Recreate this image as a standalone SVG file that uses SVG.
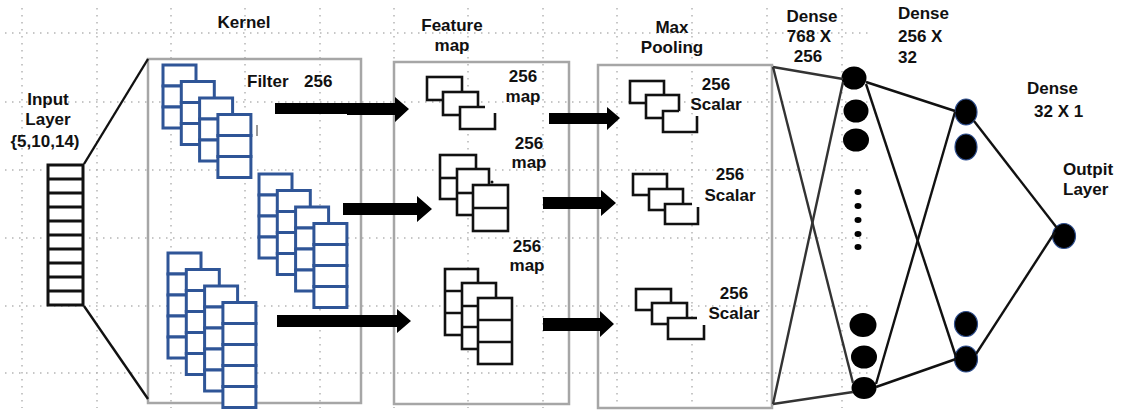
<svg xmlns="http://www.w3.org/2000/svg" xmlns:xlink="http://www.w3.org/1999/xlink" width="1130" height="411" viewBox="0 0 1130 411">
<style>
.grid{stroke:#b5b5b5;stroke-width:1.5;stroke-dasharray:1.5 5.5;fill:none}
.box{fill:none;stroke:#a6a6a6;stroke-width:2.5}
.k{fill:#fff;stroke:#2f5597;stroke-width:3}
.fm{fill:#fff;stroke:#111;stroke-width:2.6}
.t{font-family:"Liberation Sans",Arial,sans-serif;font-weight:bold;font-size:17px;fill:#111}
.m{text-anchor:middle}
.ln{stroke:#111;stroke-width:2.4;fill:none}
.ln2{stroke:#333;stroke-width:2.4;fill:none}
.arr{fill:#000}
.n1{fill:#000}
.n2{fill:#000;stroke:#2f4f8f;stroke-width:1.2}
</style>
<defs>
<g id="k3"><rect class="k" x="0" y="0" width="33" height="21"/><rect class="k" x="0" y="21" width="33" height="21"/><rect class="k" x="0" y="42" width="33" height="21"/></g>
<g id="k4"><use xlink:href="#k3"/><rect class="k" x="0" y="63" width="33" height="21"/></g>
<g id="k5"><use xlink:href="#k4"/><rect class="k" x="0" y="84" width="33" height="21"/></g>
</defs>
<rect width="1130" height="411" fill="#fff"/>
<g id="grid">
<line class="grid" x1="5" y1="33" x2="870" y2="33"/>
<line class="grid" x1="5" y1="102" x2="870" y2="102"/>
<line class="grid" x1="5" y1="170" x2="870" y2="170"/>
<line class="grid" x1="5" y1="238" x2="870" y2="238"/>
<line class="grid" x1="5" y1="306" x2="870" y2="306"/>
<line class="grid" x1="5" y1="373" x2="870" y2="373"/>
<line class="grid" x1="22" y1="8" x2="22" y2="408"/>
<line class="grid" x1="97" y1="8" x2="97" y2="408"/>
<line class="grid" x1="171" y1="8" x2="171" y2="408"/>
<line class="grid" x1="245" y1="8" x2="245" y2="408"/>
<line class="grid" x1="320" y1="8" x2="320" y2="408"/>
<line class="grid" x1="394" y1="8" x2="394" y2="408"/>
<line class="grid" x1="468" y1="8" x2="468" y2="408"/>
<line class="grid" x1="543" y1="8" x2="543" y2="408"/>
<line class="grid" x1="617" y1="8" x2="617" y2="408"/>
<line class="grid" x1="692" y1="8" x2="692" y2="408"/>
<line class="grid" x1="767" y1="8" x2="767" y2="408"/>
<line class="grid" x1="842" y1="8" x2="842" y2="408"/>
</g>

<g id="input-layer">
<rect x="48" y="165" width="35" height="140" fill="#fff" stroke="#111" stroke-width="3"/>
<path d="M48 179H83M48 193H83M48 207H83M48 221H83M48 235H83M48 249H83M48 263H83M48 277H83M48 291H83" stroke="#111" stroke-width="3"/>
<text class="t m" x="48" y="105">Input</text>
<text class="t m" x="48" y="125">Layer</text>
<text class="t m" x="45" y="147">{5,10,14)</text>
</g>

<g id="kernel">
<rect class="box" x="148" y="59" width="213" height="344"/>
<text class="t m" x="244" y="28">Kernel</text>
<text class="t" x="247" y="87">Filter<tspan x="304">256</tspan></text>
<use xlink:href="#k3" x="163" y="65"/>
<use xlink:href="#k3" x="181.3" y="81.5"/>
<use xlink:href="#k3" x="199.6" y="98"/>
<use xlink:href="#k3" x="217.9" y="114.5"/>
<line x1="257" y1="125" x2="257" y2="136" stroke="#333" stroke-width="1"/>
<use xlink:href="#k4" x="259" y="174"/>
<use xlink:href="#k4" x="277.3" y="190.5"/>
<use xlink:href="#k4" x="295.6" y="207"/>
<use xlink:href="#k4" x="313.9" y="223.5"/>
<use xlink:href="#k5" x="168" y="253"/>
<use xlink:href="#k5" x="186.3" y="269.5"/>
<use xlink:href="#k5" x="204.6" y="286"/>
<use xlink:href="#k5" x="222.9" y="302.5"/>
</g>

<g id="feature-map">
<rect class="box" x="394" y="62" width="175" height="342"/>
<text class="t m" x="452" y="31">Feature</text>
<text class="t m" x="452" y="51">map</text>
<rect class="fm" x="427" y="77" width="35" height="23"/>
<rect class="fm" x="443" y="92" width="35" height="23"/>
<path class="fm" d="M485 107H460V129H495V113"/>
<text class="t m" x="523" y="82">256</text>
<text class="t m" x="523" y="101.5">map</text>
<rect class="fm" x="440" y="155" width="36" height="44"/>
<line class="fm" x1="440" y1="178" x2="457" y2="178"/>
<rect class="fm" x="457" y="169" width="32" height="46"/>
<line class="fm" x1="457" y1="193" x2="473" y2="193"/>
<rect class="fm" x="473" y="185" width="35" height="46"/>
<line class="fm" x1="473" y1="208" x2="508" y2="208"/>
<circle cx="492" cy="182" r="1.5" fill="#111"/>
<text class="t m" x="529" y="148.5">256</text>
<text class="t m" x="529" y="168">map</text>
<rect class="fm" x="445" y="269" width="33" height="66"/>
<path class="fm" d="M445 291H462M445 313H462"/>
<rect class="fm" x="462" y="283" width="34" height="66"/>
<path class="fm" d="M462 306H478M462 327H478"/>
<rect class="fm" x="478" y="298" width="34" height="66"/>
<path class="fm" d="M478 320H512M478 342H512"/>
<text class="t m" x="527" y="251.5">256</text>
<text class="t m" x="527" y="271">map</text>
</g>

<g id="max-pooling">
<rect class="box" x="598" y="65" width="174" height="343"/>
<text class="t m" x="672" y="33">Max</text>
<text class="t m" x="672" y="53">Pooling</text>
<rect class="fm" x="630" y="81" width="34" height="22"/>
<rect class="fm" x="646" y="95" width="33" height="23"/>
<path class="fm" d="M679 111H663V132H697V116"/>
<text class="t m" x="716" y="90">256</text>
<text class="t m" x="716" y="110">Scalar</text>
<rect class="fm" x="633" y="174" width="34" height="21"/>
<rect class="fm" x="649" y="189" width="34" height="21"/>
<path class="fm" d="M692 204H665V224H698V207"/>
<text class="t m" x="730" y="180">256</text>
<text class="t m" x="730" y="201">Scalar</text>
<rect class="fm" x="636" y="289" width="35" height="21"/>
<rect class="fm" x="652" y="303" width="35" height="21"/>
<path class="fm" d="M697 318H668V339H704V325"/>
<text class="t m" x="734" y="299">256</text>
<text class="t m" x="734" y="319">Scalar</text>
</g>

<g id="dense-768x256">
<text class="t m" x="812" y="22">Dense</text>
<text class="t m" x="809" y="42">768 X</text>
<text class="t m" x="808" y="62">256</text>
<ellipse class="n1" cx="854" cy="78" rx="12.5" ry="11.5"/>
<ellipse class="n1" cx="856" cy="111" rx="12.5" ry="11.5"/>
<ellipse class="n1" cx="856" cy="140" rx="13" ry="11.5"/>
<ellipse class="n1" cx="858" cy="192" rx="3.5" ry="3"/>
<ellipse class="n1" cx="858" cy="206" rx="3.5" ry="3"/>
<ellipse class="n1" cx="858" cy="220" rx="3.5" ry="3"/>
<ellipse class="n1" cx="858" cy="234" rx="3.5" ry="3"/>
<ellipse class="n1" cx="858" cy="247" rx="3.5" ry="3"/>
<ellipse class="n1" cx="863" cy="325" rx="13.5" ry="12"/>
<ellipse class="n1" cx="864" cy="357" rx="13" ry="11.5"/>
<ellipse class="n1" cx="864" cy="388" rx="12.5" ry="11"/>
</g>

<g id="dense-256x32">
<text class="t" x="898" y="19">Dense</text>
<text class="t" x="898" y="42">256 X</text>
<text class="t" x="898" y="63">32</text>
<ellipse class="n2" cx="966" cy="112" rx="11" ry="13"/>
<ellipse class="n2" cx="966" cy="147" rx="11" ry="13"/>
<ellipse class="n2" cx="966" cy="324" rx="11.5" ry="12.5"/>
<ellipse class="n2" cx="966" cy="359" rx="11.5" ry="13"/>
</g>

<g id="dense-32x1">
<text class="t" x="1027" y="94">Dense</text>
<text class="t" x="1034" y="117">32 X 1</text>
</g>

<g id="output-layer">
<text class="t" x="1063" y="175">Outpit</text>
<text class="t" x="1063" y="195">Layer</text>
<ellipse class="n2" cx="1064" cy="236" rx="11.5" ry="12.5"/>
</g>

<g id="connectors">
<line class="ln" x1="84" y1="164" x2="148" y2="59"/>
<line class="ln" x1="84" y1="306" x2="148" y2="399"/>
<polygon class="arr" points="275,103 395,103 395,97 409,109 395,122 395,115 347,115 347,114 275,114"/>
<polygon class="arr" points="343,203 417,203 417,196 432,209 417,222 417,215 343,215"/>
<polygon class="arr" points="277,315 397,315 397,309 411,321 397,333 397,327 277,327"/>
<polygon class="arr" points="549,113 607,113 607,107 620,118 607,130 607,124 549,124"/>
<polygon class="arr" points="543,197 601,197 601,190 616,203 601,216 601,209 543,209"/>
<polygon class="arr" points="543,318 600,318 600,311 614,324 600,337 600,331 543,331"/>
<line class="ln2" x1="773" y1="67" x2="843" y2="79"/>
<line class="ln2" x1="773" y1="67" x2="853" y2="383"/>
<line class="ln2" x1="773" y1="404" x2="843" y2="82"/>
<line class="ln2" x1="773" y1="404" x2="853" y2="392"/>
<line class="ln" x1="866" y1="82" x2="955" y2="111"/>
<line class="ln" x1="866" y1="84" x2="956" y2="357"/>
<line class="ln" x1="876" y1="384" x2="955" y2="112"/>
<line class="ln" x1="876" y1="387" x2="956" y2="359"/>
<line class="ln" x1="974" y1="121" x2="1057" y2="228"/>
<line class="ln" x1="976" y1="354" x2="1055" y2="232"/>
</g>
</svg>
